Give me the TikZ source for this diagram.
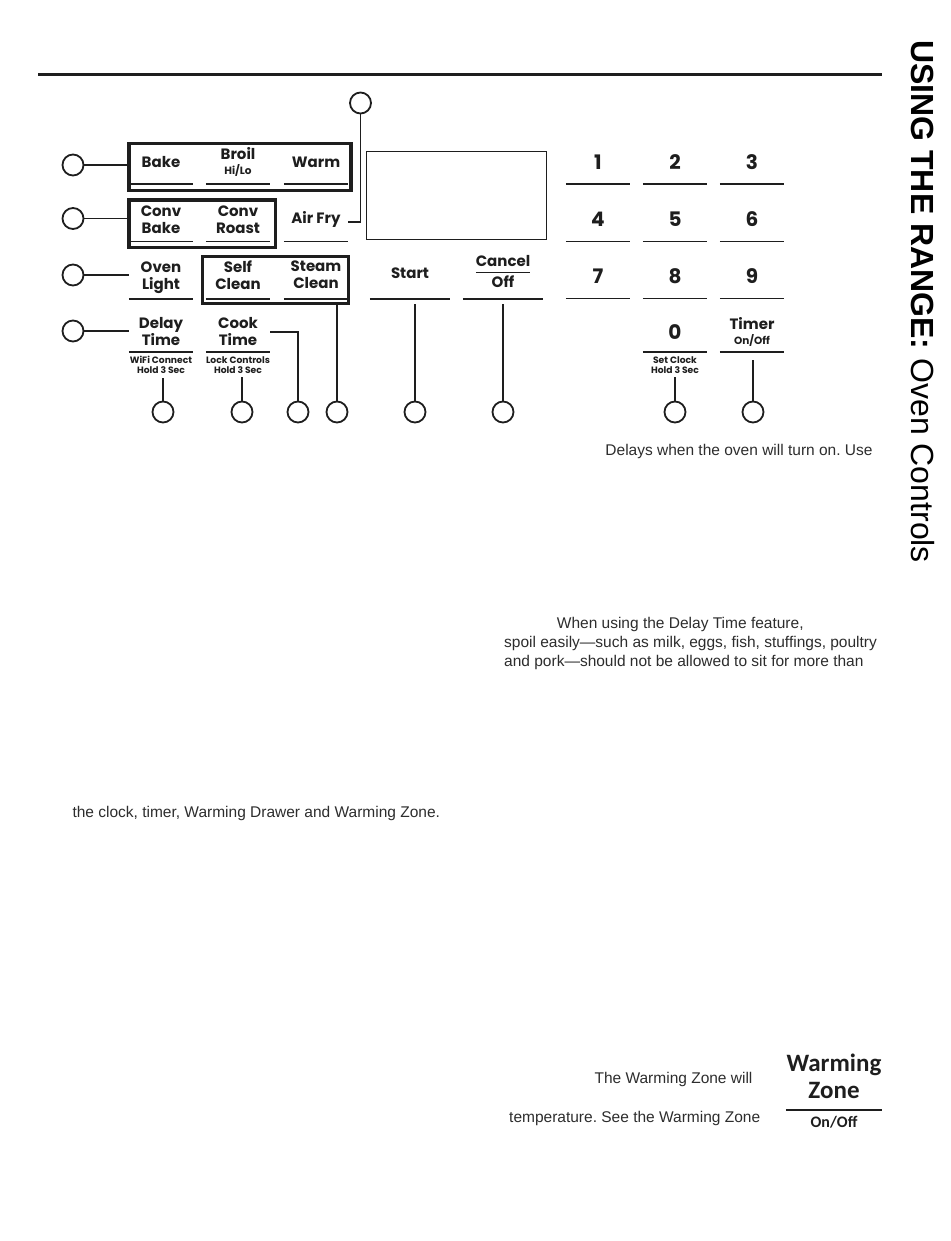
\documentclass[tikz,border=0pt]{standalone}
\usepackage{fontspec}
\setmainfont{Liberation Sans}
\newfontfamily\keyfont{Poppins}
\newfontfamily\zonefont{Carlito}
\usepackage{tikz}
\usetikzlibrary{positioning,calc}
\definecolor{inkgray}{RGB}{30,30,30}
\definecolor{textgray}{RGB}{45,45,45}
\newcommand\smallkey{\fontsize{10.5}{11}\selectfont}
\frenchspacing
\tikzset{
  callout/.style={circle,draw=inkgray,line width=1.8pt,minimum size=21pt,inner sep=0pt},
  lead/.style={line width=1.8pt,draw=inkgray},
  grp/.style={rectangle,draw=inkgray,line width=3.2pt,inner sep=0pt},
  keyline/.style={line width=1.6pt,draw=inkgray},
  bodytext/.style={font=\fontsize{15.5}{18}\selectfont,text=textgray,inner sep=0pt,anchor=base west}
}

\begin{document}
\begin{tikzpicture}[
  x=1pt,y=-1pt,
  key/.style={inner sep=0pt,minimum width=64pt,minimum height=44pt,align=center,
    text=inkgray,font=\keyfont\bfseries\fontsize{15}{17}\selectfont},
  numkey/.style={key,font=\keyfont\bfseries\fontsize{20}{20}\selectfont},
  subkey/.style={inner sep=0pt,align=center,text=inkgray,
    font=\keyfont\bfseries\fontsize{9.2}{10}\selectfont},
  screen/.style={rectangle,draw=inkgray,line width=1.2pt,inner sep=0pt},
  zonekey/.style={inner sep=0pt,minimum width=96pt,minimum height=66pt,align=center,
    text=inkgray,font=\zonefont\bfseries\fontsize{25}{27}\selectfont},
  zonesub/.style={inner sep=0pt,text=inkgray,font=\zonefont\bfseries\fontsize{16}{16}\selectfont},
  heading/.style={rotate=-90,anchor=base west,inner sep=0pt,text=black,
    font=\fontsize{32}{32}\selectfont}
]
  \useasboundingbox (0,0) rectangle (950,1241);
  \fill[white] (0,0) rectangle (950,1241);

  \def\padkey#1#2#3#4#5{%
    \node[key,anchor=south,#1] (#2) at (#3,#4) {#5};
    \draw[keyline] (#2.south west) -- (#2.south east);%
  }

  % page rule and side heading
  \draw[line width=3pt,draw=inkgray] (38,75) -- (882,75);
  \node[heading] (title) at (911.5,40) {{\bfseries USING THE RANGE:} Oven Controls};

  % mode keys
  \padkey{}{bBake}{161}{184}{Bake}
  \padkey{}{bBroil}{238}{184}{Broil\\[-2pt]{\smallkey Hi/Lo}}
  \padkey{}{bWarm}{316}{184}{Warm}

  \padkey{}{bConvBake}{161}{241.5}{Conv\\Bake}
  \padkey{}{bConvRoast}{238}{241.5}{Conv\\Roast}
  \padkey{}{bAirFry}{316}{241.5}{Air Fry}

  \padkey{minimum height=43}{bOven}{161}{299}{Oven\\Light}
  \padkey{minimum height=48}{bSelf}{238}{299}{Self\\Clean}
  \padkey{minimum height=48}{bSteam}{316}{299}{Steam\\Clean}

  \padkey{minimum height=40}{bDelay}{161}{352}{Delay\\Time}
  \padkey{minimum height=40}{bCook}{238}{352}{Cook\\Time}

  \node[subkey,below=4pt of bDelay] (sDelay) {WiFi Connect\\Hold 3 Sec};
  \node[subkey,below=4pt of bCook] (sCook) {Lock Controls\\Hold 3 Sec};

  \node[grp,minimum width=222,minimum height=47] (gBake) at (240,167) {};
  \node[grp,minimum width=146.6,minimum height=47.5] (gConv) at (202.3,223.8) {};
  \node[grp,minimum width=146,minimum height=47] (gClean) at (275.5,280) {};

  % display, start, cancel
  \node[screen,minimum width=180,minimum height=88] (disp) at (456.4,195.2) {};

  \padkey{minimum width=80,minimum height=52}{bStart}{410}{299}{Start}
  \padkey{minimum width=80,minimum height=50}{bCancel}{503}{299}%
    {\begin{tabular}{@{}c@{}}Cancel\\\hline\rule{0pt}{15pt}Off\end{tabular}}

  % number pad
  \padkey{numkey}{bNum1}{598}{184}{1}
  \padkey{numkey}{bNum2}{675}{184}{2}
  \padkey{numkey}{bNum3}{752}{184}{3}
  \padkey{numkey}{bNum4}{598}{241.5}{4}
  \padkey{numkey}{bNum5}{675}{241.5}{5}
  \padkey{numkey}{bNum6}{752}{241.5}{6}
  \padkey{numkey}{bNum7}{598}{298.5}{7}
  \padkey{numkey}{bNum8}{675}{298.5}{8}
  \padkey{numkey}{bNum9}{752}{298.5}{9}
  \padkey{numkey,minimum height=40}{bNum0}{675}{352}{0}
  \padkey{minimum height=39}{bTimer}{752}{352}{Timer\\[-2pt]{\smallkey On/Off}}

  \node[subkey,below=4pt of bNum0] (sClock) {Set Clock\\Hold 3 Sec};

  % callout circles
  \node[callout] (cL1) at (73,165) {};
  \node[callout] (cL2) at (73,218.5) {};
  \node[callout] (cL3) at (73,275) {};
  \node[callout] (cL4) at (73,331) {};
  \node[callout] (cTop) at (360.5,103) {};

  \node[callout] (cB1) at (163,412) {};
  \node[callout] (cB2) at (242,412) {};
  \node[callout] (cB3) at (298,412) {};
  \node[callout] (cB4) at (337,412) {};
  \node[callout] (cB5) at (415,412) {};
  \node[callout] (cB6) at (503,412) {};
  \node[callout] (cB7) at (675,412) {};
  \node[callout] (cB8) at (753,412) {};

  \draw[lead] (cL1) -- (cL1 -| gBake.west);
  \draw[lead] (cL2) -- (cL2 -| gConv.west);
  \draw[lead] (cL3) -- (cL3 -| bOven.west);
  \draw[lead] (cL4) -- (cL4 -| bDelay.west);
  \draw[lead] (cTop) |- ([yshift=-3pt]bAirFry.east);

  \draw[lead,shorten >=4pt] (cB1) -- (cB1 |- sDelay.south);
  \draw[lead,shorten >=4pt] (cB2) -- (cB2 |- sCook.south);
  \draw[lead] (cB3) |- (bCook.east);
  \draw[lead] (cB4) -- (cB4 |- gClean.south);
  \draw[lead,shorten >=5pt] (cB5) -- (cB5 |- bStart.south);
  \draw[lead,shorten >=5pt] (cB6) -- (cB6 |- bCancel.south);
  \draw[lead,shorten >=4pt] (cB7) -- (cB7 |- sClock.south);
  \draw[lead,shorten >=8pt] (cB8) -- (cB8 |- bTimer.south);

  % body text fragments
  \node[bodytext,anchor=base] (tDelay) at (739,455) {Delays when the oven will turn on. Use};
  \node[bodytext] (tWhen) at (556.7,628) {When using the Delay Time feature,};
  \node[bodytext] (tSpoil) at (504,647) {spoil easily—such as milk, eggs, fish, stuffings, poultry};
  \node[bodytext] (tPork) at (504,666) {and pork—should not be allowed to sit for more than};
  \node[bodytext] (tClock) at (72.3,817) {the clock, timer, Warming Drawer and Warming Zone.};
  \node[bodytext,anchor=base] (tZone) at (673.5,1083) {The Warming Zone will};
  \node[bodytext,anchor=base] (tTemp) at (634.7,1122) {temperature. See the Warming Zone};

  % warming zone key
  \node[zonekey,anchor=south] (bZone) at (834,1110) {Warming\\Zone};
  \draw[keyline,line width=2pt] (bZone.south west) -- (bZone.south east);
  \node[zonesub,below=6pt of bZone] (sZone) {On/Off};

\end{tikzpicture}
\end{document}
